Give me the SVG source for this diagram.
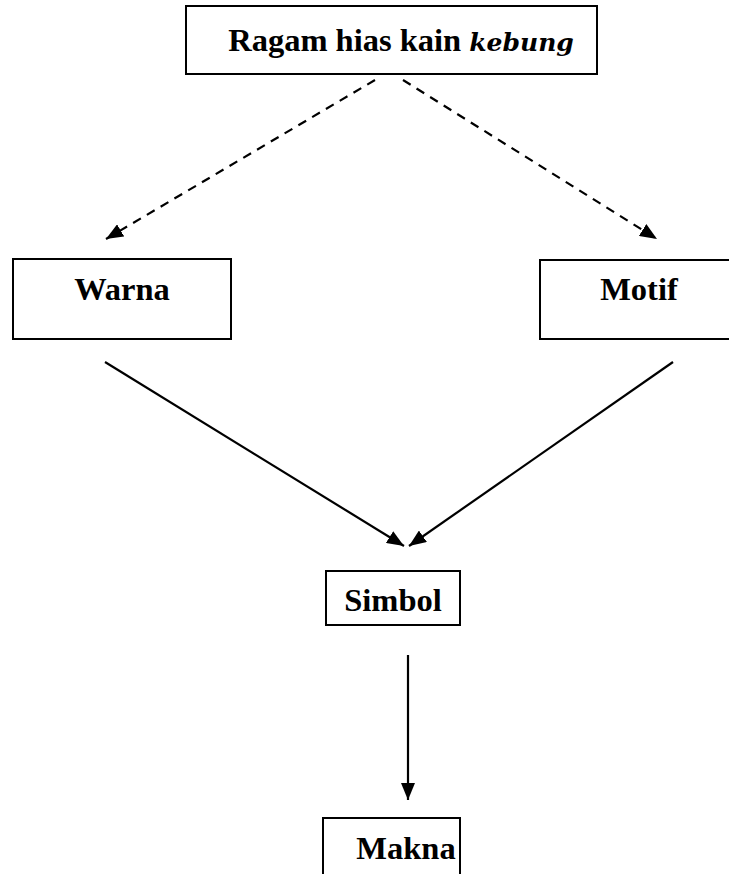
<svg xmlns="http://www.w3.org/2000/svg" width="729" height="874" viewBox="0 0 729 874">
<style>
.box{fill:#fff;stroke:#000;stroke-width:2}
.t{font-family:"Liberation Serif","Times New Roman",serif;font-weight:bold;font-size:32.5px;text-anchor:middle;fill:#000}
.i{font-family:"DejaVu Serif",serif;font-style:italic;font-weight:bold;font-size:25px}
.c{stroke:#000;stroke-width:2.2;fill:none}
.d{stroke-dasharray:9 7}
</style>
<defs>
<marker id="ah" viewBox="0 0 17 14" refX="17" refY="7" markerWidth="17" markerHeight="14" markerUnits="userSpaceOnUse" orient="auto">
<path d="M0,0 L17,7 L0,14 Z" fill="#000"/>
</marker>
</defs>
<rect width="729" height="874" fill="#fff"/>
<g id="connectors">
<line class="c d" x1="375" y1="80" x2="106" y2="239" marker-end="url(#ah)"/>
<line class="c d" x1="403" y1="80" x2="657" y2="239" marker-end="url(#ah)"/>
<line class="c" x1="105" y1="362" x2="404" y2="546" marker-end="url(#ah)"/>
<line class="c" x1="673" y1="362" x2="409" y2="546" marker-end="url(#ah)"/>
<line class="c" x1="408" y1="655" x2="408" y2="800" marker-end="url(#ah)"/>
</g>
<g id="ragam">
<rect class="box" x="186" y="6" width="411" height="68"/>
<text class="t" x="401" y="51">Ragam hias kain <tspan class="i">kebung</tspan></text>
</g>
<g id="warna">
<rect class="box" x="13" y="259" width="218" height="80"/>
<text class="t" x="122" y="300">Warna</text>
</g>
<g id="motif">
<rect class="box" x="540" y="260" width="190" height="79"/>
<text class="t" x="639" y="300">Motif</text>
</g>
<g id="simbol">
<rect class="box" x="326" y="571" width="134" height="54"/>
<text class="t" x="393" y="611">Simbol</text>
</g>
<g id="makna">
<rect class="box" x="323" y="818" width="137" height="60"/>
<text class="t" x="406" y="859">Makna</text>
</g>
</svg>
